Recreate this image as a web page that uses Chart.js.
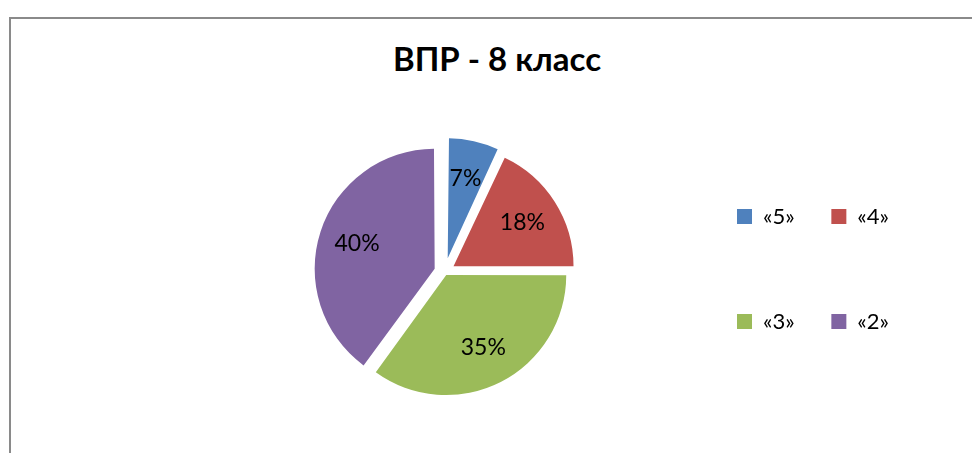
<!DOCTYPE html>
<html><head><meta charset="utf-8">
<script src="https://cdn.jsdelivr.net/npm/chart.js@4.4.1/dist/chart.umd.min.js"></script>
<style>
html,body{margin:0;padding:0;background:#fff;}
#wrap{position:relative;width:972px;height:453px;overflow:hidden;}
#frame{position:absolute;left:9px;top:17px;width:1200px;height:800px;border:2px solid #8a8a8a;box-sizing:border-box;}
#title{position:absolute;left:0;width:994px;top:38px;text-align:center;font:bold 33px Lato, sans-serif;color:#000;line-height:40px;}
canvas{position:absolute;left:0;top:0;}
</style></head><body>
<div id="wrap"><div id="frame"></div><div id="title"></div><canvas id="c" width="972" height="453"></canvas></div>
<script>
const titleText = 'ВПР - 8 класс';
const categories = ['«5»', '«4»', '«3»', '«2»'];
const percents = [7, 18, 35, 40];
const legendOrder = [0, 2, 1, 3];

const colors = ['#4F81BD', '#C0504D', '#9BBB59', '#8064A2'];
const explode = [56, 42, 14, 42];
const pieRadius = 120;

document.getElementById('title').textContent = titleText;

const arcFix = {
  id: 'arcFix',
  afterDatasetUpdate(chart, args) {
    const meta = chart.getDatasetMeta(args.index);
    meta.data.forEach((arc, i) => {
      const circ = arc.endAngle - arc.startAngle;
      const t = explode[i] / 4;
      const fix = 1 - Math.sin(Math.min(Math.PI, circ));
      arc.outerRadius = pieRadius - t * fix;
    });
  }
};

const pctLabels = {
  id: 'pctLabels',
  afterDatasetsDraw(chart) {
    const ctx = chart.ctx;
    const meta = chart.getDatasetMeta(0);
    ctx.save();
    ctx.font = '23px Lato, sans-serif';
    ctx.fillStyle = '#000';
    ctx.textAlign = 'center';
    ctx.textBaseline = 'middle';
    meta.data.forEach((arc, i) => {
      const mid = (arc.startAngle + arc.endAngle) / 2;
      const d = explode[i] / 4 + pieRadius * 0.68;
      ctx.fillText(percents[i] + '%', arc.x + Math.cos(mid) * d, arc.y + Math.sin(mid) * d);
    });
    ctx.restore();
  }
};

new Chart(document.getElementById('c'), {
  type: 'pie',
  data: {
    labels: categories,
    datasets: [{
      data: percents,
      backgroundColor: colors,
      borderColor: colors,
      borderWidth: 0,
      offset: explode,
      radius: pieRadius
    }]
  },
  options: {
    responsive: false,
    devicePixelRatio: 1,
    animation: false,
    events: [],
    layout: { padding: { left: 189, right: 73, top: 128.5, bottom: 37.5 } },
    plugins: {
      tooltip: { enabled: false },
      title: { display: false },
      legend: {
        display: true,
        position: 'right',
        align: 'end',
        labels: {
          color: '#000',
          font: { family: 'Lato', size: 22, lineHeight: 3.105 },
          boxWidth: 15,
          boxHeight: 15,
          padding: 36.7,
          generateLabels(chart) {
            const base = Chart.PieController.overrides.plugins.legend.labels.generateLabels(chart);
            return base.map(l => Object.assign({}, l, { text: [l.text] }));
          },
          sort(a, b) { return legendOrder.indexOf(a.index) - legendOrder.indexOf(b.index); }
        }
      }
    }
  },
  plugins: [arcFix, pctLabels]
});
</script>
</body></html>
